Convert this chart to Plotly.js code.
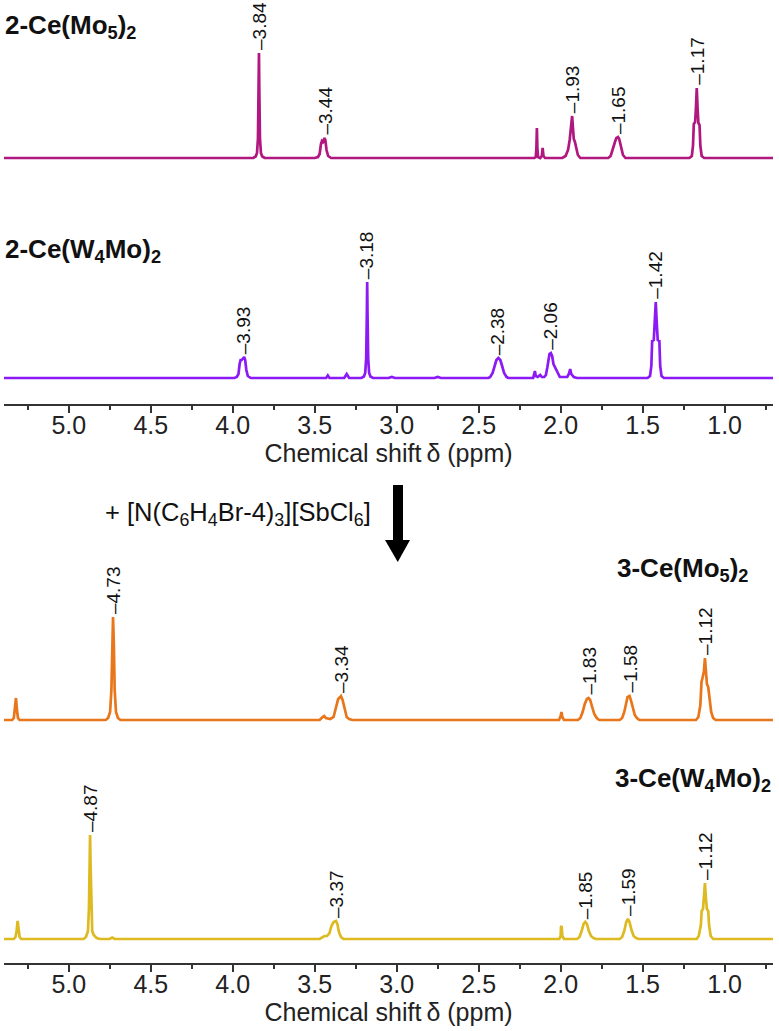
<!DOCTYPE html>
<html>
<head>
<meta charset="utf-8">
<script src="https://cdn.plot.ly/plotly-3.0.1.min.js"></script>
<style>
  html, body { margin: 0; padding: 0; background: #fff; }
  #chart { width: 779px; height: 1031px; }
</style>
</head>
<body>
<div id="chart"></div>
<script>
// ---- 1H NMR traces: chemical shift (ppm) and signal intensity (a.u.) ----

// 2-Ce(Mo5)2
const moShift = [5.395,
  3.875, 3.86, 3.852, 3.846, 3.842, 3.84, 3.838, 3.834, 3.828, 3.82, 3.805,
  3.50, 3.48, 3.47, 3.462, 3.456, 3.45, 3.444, 3.44, 3.435, 3.428, 3.418, 3.40,
  2.16, 2.152, 2.148, 2.145, 2.142, 2.138, 2.125, 2.115, 2.11, 2.105, 2.095,
  1.99, 1.97, 1.955, 1.945, 1.937, 1.93, 1.925, 1.92, 1.913, 1.905, 1.895, 1.88,
  1.71, 1.695, 1.685, 1.677, 1.667, 1.66, 1.65, 1.643, 1.636, 1.628, 1.62, 1.605,
  1.215, 1.20, 1.193, 1.188, 1.18, 1.175, 1.17, 1.165, 1.16, 1.153, 1.148, 1.14, 1.125,
  0.705];
const moSignal = [0,
  0, 1.5, 5, 20, 70, 105, 70, 20, 5, 1.5, 0,
  0, 1, 4, 14, 17, 16, 19, 20, 18, 8, 2, 0,
  0, 1, 10, 30, 10, 1, 0, 2, 10, 2, 0,
  0, 2, 8, 18, 32, 42, 30, 19, 16, 9, 3, 0,
  0, 2, 8, 12, 17, 20, 21, 19, 13, 8, 3, 0,
  0, 2, 12, 34, 36, 50, 70, 50, 35, 33, 12, 2, 0,
  0];
const moPeaks = [3.84, 3.44, 1.93, 1.65, 1.17];

// 2-Ce(W4Mo)2
const wmoShift = [5.395,
  3.99, 3.975, 3.965, 3.958, 3.952, 3.945, 3.938, 3.93, 3.924, 3.917, 3.908, 3.89,
  3.43, 3.42, 3.41, 3.32, 3.305, 3.29,
  3.215, 3.20, 3.192, 3.186, 3.182, 3.18, 3.178, 3.174, 3.168, 3.16, 3.145,
  3.05, 3.03, 3.01, 2.77, 2.75, 2.73,
  2.44, 2.43, 2.415, 2.403, 2.392, 2.38, 2.368, 2.357, 2.345, 2.33, 2.32,
  2.168, 2.162, 2.157, 2.152, 2.14, 2.125, 2.115,
  2.10, 2.09, 2.082, 2.075, 2.068, 2.06, 2.052, 2.044, 2.032, 2.02, 2.005,
  1.96, 1.95, 1.942, 1.935, 1.92, 1.90,
  1.47, 1.455, 1.447, 1.442, 1.432, 1.426, 1.42, 1.414, 1.408, 1.398, 1.393, 1.385, 1.37,
  0.705];
const wmoSignal = [0,
  0, 1, 4, 14, 18, 18, 20, 21, 18, 8, 2, 0,
  0, 2.5, 0, 0, 4, 0,
  0, 1.5, 5, 20, 65, 96, 65, 20, 5, 1.5, 0,
  0, 1, 0, 0, 1, 0,
  0, 1, 5, 12, 18, 20, 18, 12, 5, 1, 0,
  0, 3, 7, 2, 1, 3, 1,
  1, 3, 10, 20, 24, 25, 22, 14, 10, 5, 1,
  1, 4, 9, 4, 1, 0,
  0, 2, 12, 37, 38, 55, 76, 55, 38, 37, 12, 2, 0,
  0];
const wmoPeaks = [3.93, 3.18, 2.38, 2.06, 1.42];

// 3-Ce(Mo5)2
const moOxShift = [5.395,
  5.345, 5.335, 5.328, 5.322, 5.316, 5.31, 5.30,
  4.775, 4.76, 4.748, 4.74, 4.735, 4.73, 4.725, 4.72, 4.712, 4.70, 4.685,
  3.47, 3.452, 3.442, 3.432, 3.405, 3.385, 3.37, 3.357, 3.345, 3.34, 3.33, 3.318, 3.305, 3.29, 3.27,
  2.01, 2.0, 1.995, 1.99, 1.98,
  1.895, 1.88, 1.866, 1.853, 1.84, 1.83, 1.82, 1.808, 1.795, 1.78, 1.765,
  1.64, 1.625, 1.612, 1.60, 1.592, 1.585, 1.58, 1.572, 1.56, 1.548, 1.535, 1.52,
  1.175, 1.16, 1.148, 1.141, 1.135, 1.127, 1.12, 1.114, 1.108, 1.10, 1.092, 1.082, 1.07, 1.055,
  0.705];
const moOxSignal = [0,
  0, 2, 10, 22, 10, 2, 0,
  0, 2, 8, 30, 75, 103, 75, 30, 8, 2, 0,
  0, 3, 4, 2, 1, 3, 12, 21, 23, 24, 20, 10, 3, 1, 0,
  0, 4, 8, 3, 0,
  0, 2, 8, 16, 21, 22, 20, 13, 6, 2, 0,
  0, 2, 8, 18, 23, 23.5, 24, 20, 11, 5, 2, 0,
  0, 3, 15, 38, 42, 48, 62, 45, 36, 33, 20, 8, 2, 0,
  0];
const moOxPeaks = [4.73, 3.34, 1.83, 1.58, 1.12];

// 3-Ce(W4Mo)2
const wmoOxShift = [5.395,
  5.335, 5.325, 5.318, 5.312, 5.306, 5.30, 5.29,
  4.91, 4.895, 4.883, 4.877, 4.873, 4.87, 4.867, 4.863, 4.857, 4.848, 4.84, 4.83, 4.81,
  4.75, 4.735, 4.72,
  3.47, 3.45, 3.44, 3.425, 3.41, 3.398, 3.385, 3.378, 3.37, 3.362, 3.352, 3.34, 3.325,
  2.008, 2.0, 1.998, 1.994, 1.99, 1.98,
  1.90, 1.885, 1.872, 1.86, 1.85, 1.84, 1.828, 1.815, 1.80, 1.785,
  1.64, 1.625, 1.612, 1.60, 1.59, 1.58, 1.568, 1.555, 1.54, 1.525,
  1.17, 1.158, 1.145, 1.14, 1.132, 1.126, 1.12, 1.114, 1.108, 1.10, 1.095, 1.085, 1.07,
  0.705];
const wmoOxSignal = [0,
  0, 2, 8, 18, 8, 2, 0,
  0, 2, 8, 30, 75, 104, 75, 30, 8, 4, 3, 1, 0,
  0, 1.5, 0,
  0, 2, 3, 3, 6, 13, 17, 17.5, 18, 15, 7, 2, 0,
  0, 3, 12, 13, 3, 0,
  0, 2, 8, 15, 17, 15, 8, 3, 1, 0,
  0, 2, 8, 17, 20, 17, 9, 3, 1, 0,
  0, 3, 14, 28, 30, 40, 56, 40, 30, 28, 14, 3, 0,
  0];
const wmoOxPeaks = [4.87, 3.37, 1.85, 1.59, 1.12];

const compoundNames = [
  '2-Ce(Mo<sub>5</sub>)<sub>2</sub>',
  '2-Ce(W<sub>4</sub>Mo)<sub>2</sub>',
  '3-Ce(Mo<sub>5</sub>)<sub>2</sub>',
  '3-Ce(W<sub>4</sub>Mo)<sub>2</sub>'
];
const reagentText = '+ [N(C<sub>6</sub>H<sub>4</sub>Br-4)<sub>3</sub>][SbCl<sub>6</sub>]';
const axisTitle = 'Chemical shift\u2009δ (ppm)';
const shiftRange = [5.395, 0.705];

const colors = ['#B0177F', '#8C1AF5', '#E8761A', '#DDBA22'];

// ---- page geometry ----
const W = 779, H = 1031;
const M = { l: 4, r: 6, t: 0, b: 68 };
const PW = W - M.l - M.r, PH = H - M.t - M.b;
const fx = px => (px - M.l) / PW;          // pixel x -> paper x
const fy = py => 1 - (py - M.t) / PH;      // pixel y -> paper y
const band = (topPx, bottomPx) => [fy(bottomPx), fy(topPx)];

const FONT = 'Liberation Sans, Arial, Helvetica, sans-serif';

function trace(x, y, xa, ya, color) {
  return {
    x, y, xaxis: xa, yaxis: ya, type: 'scatter', mode: 'lines',
    line: { color, width: 2.7 }, hoverinfo: 'skip', showlegend: false
  };
}

const data = [
  trace(moShift, moSignal, 'x', 'y', colors[0]),
  trace(wmoShift, wmoSignal, 'x', 'y2', colors[1]),
  trace(moOxShift, moOxSignal, 'x2', 'y3', colors[2]),
  trace(wmoOxShift, wmoOxSignal, 'x2', 'y4', colors[3])
];

// peak position labels, placed on top of each peak
function peakLabels(shift, signal, peaks, xref, yref) {
  return peaks.map(p => {
    const i = shift.indexOf(p);
    return {
      x: p, y: signal[i], xref, yref,
      text: '–' + p.toFixed(2), textangle: -90,
      showarrow: false, xanchor: 'center', yanchor: 'bottom', yshift: 1,
      font: { family: FONT, size: 19, color: '#111' }
    };
  });
}

function nameLabel(i, xPx, yPx, anchor) {
  return {
    text: '<b>' + compoundNames[i] + '</b>',
    xref: 'paper', yref: 'paper', x: fx(xPx), y: fy(yPx),
    xanchor: anchor, yanchor: 'middle', showarrow: false,
    font: { family: FONT, size: 26, color: '#111' }
  };
}

const annotations = [
  ...peakLabels(moShift, moSignal, moPeaks, 'x', 'y'),
  ...peakLabels(wmoShift, wmoSignal, wmoPeaks, 'x', 'y2'),
  ...peakLabels(moOxShift, moOxSignal, moOxPeaks, 'x2', 'y3'),
  ...peakLabels(wmoOxShift, wmoOxSignal, wmoOxPeaks, 'x2', 'y4'),
  nameLabel(0, 3, 26, 'left'),
  nameLabel(1, 3, 250, 'left'),
  nameLabel(2, 750, 569, 'right'),
  nameLabel(3, 773, 779, 'right'),
  {
    text: reagentText, xref: 'paper', yref: 'paper', x: fx(103), y: fy(514),
    xanchor: 'left', yanchor: 'middle', showarrow: false,
    font: { family: FONT, size: 25.5, color: '#111' }
  }
];

// reaction arrow between the two panels
const shapes = [
  { type: 'rect', xref: 'paper', yref: 'paper',
    x0: fx(393), x1: fx(403), y0: fy(485), y1: fy(542),
    fillcolor: '#000', line: { width: 0 } },
  { type: 'path', xref: 'paper', yref: 'paper',
    path: `M ${fx(385)} ${fy(540)} L ${fx(410)} ${fy(540)} L ${fx(397.75)} ${fy(562)} Z`,
    fillcolor: '#000', line: { width: 0 } }
];

function shiftAxis(anchor) {
  return {
    anchor, range: shiftRange, domain: [0, 1],
    showgrid: false, zeroline: false,
    showline: true, linecolor: '#333', linewidth: 2,
    ticks: 'outside', ticklen: 7, tickwidth: 2, tickcolor: '#333',
    tick0: 1, dtick: 0.5, tickformat: '.1f', ticklabelstandoff: -9,
    minor: { dtick: 0.25, tick0: 0, ticks: 'outside', ticklen: 4, tickwidth: 2, tickcolor: '#333' },
    tickfont: { family: FONT, size: 25, color: '#222' },
    title: { text: axisTitle, font: { family: FONT, size: 25, color: '#222' }, standoff: 4 },
    automargin: false, fixedrange: true
  };
}

function intensityAxis(anchor, range, dom) {
  return { anchor, range, domain: dom, visible: false, fixedrange: true };
}

const layout = {
  width: W, height: H,
  margin: M,
  paper_bgcolor: '#fff', plot_bgcolor: 'rgba(0,0,0,0)',
  xaxis: shiftAxis('y2'),
  xaxis2: shiftAxis('y4'),
  yaxis: intensityAxis('x', [-8, 158], band(0, 166)),
  yaxis2: intensityAxis('x', [-26, 190], band(188, 404)),
  yaxis3: intensityAxis('x2', [-8, 180], band(540, 728)),
  yaxis4: intensityAxis('x2', [-24, 190], band(749, 963)),
  annotations, shapes,
  hovermode: false
};

Plotly.newPlot('chart', data, layout, { displayModeBar: false, staticPlot: true });
</script>
</body>
</html>
